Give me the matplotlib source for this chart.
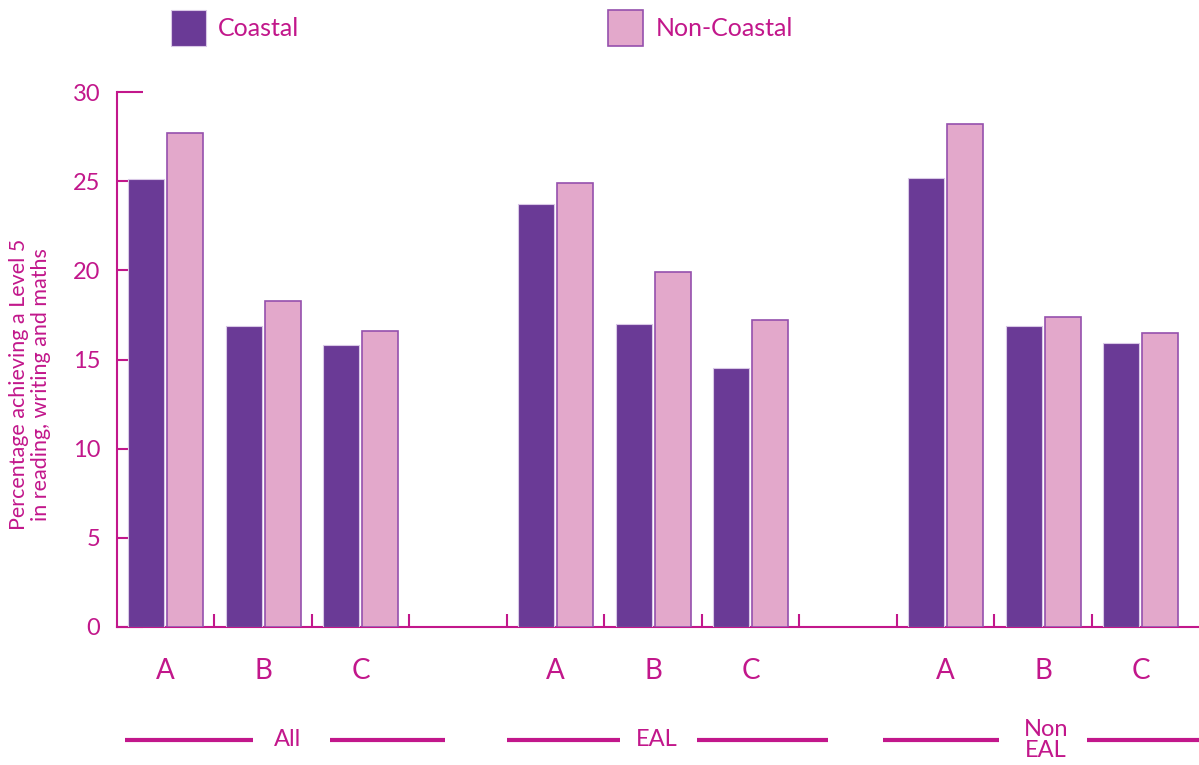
import matplotlib
matplotlib.use("Agg")
import matplotlib.pyplot as plt
import numpy as np

plt.rcParams['font.family'] = ['Lato', 'DejaVu Sans']

# data
groups = ['All', 'EAL', 'Non\nEAL']
schools = ['A', 'B', 'C']
coastal = [25.1, 16.9, 15.8,
           23.7, 17.0, 14.5,
           25.2, 16.9, 15.9]
non_coastal = [27.7, 18.3, 16.6,
               24.9, 19.9, 17.2,
               28.2, 17.4, 16.5]

MAGENTA = '#C2178B'
PURPLE = '#6A3A96'
PINK = '#E3A8CB'
PINK_EDGE = '#9550AD'

fig = plt.figure(figsize=(11.99, 7.65), dpi=100)
ax = fig.add_axes([0.0976, 0.1804, 0.9024, 0.6993])

# one empty slot between groups
pos = []
for g in range(len(groups)):
    for s in range(len(schools)):
        pos.append(g * (len(schools) + 1) + s)
pos = np.array(pos, dtype=float)

w = 0.37
ax.bar(pos - w / 2 - 0.015, coastal, w, color=PURPLE, edgecolor='#D9C8E6',
       linewidth=0.8, zorder=3, label='Coastal')
ax.bar(pos + w / 2 + 0.015, non_coastal, w, color=PINK, edgecolor=PINK_EDGE,
       linewidth=1.2, zorder=3, label='Non-Coastal')

ax.set_xlim(-0.5, 10.6)
ax.set_ylim(0, 30)
ax.set_yticks([0, 5, 10, 15, 20, 25, 30])
ax.tick_params(axis='y', direction='in', length=19, width=1.5, color=MAGENTA,
               labelcolor=MAGENTA, labelsize=17, pad=12)

ax.set_xticks(pos)
ax.set_xticklabels(schools * len(groups))
ax.set_xticks(np.arange(0.5, 10.5, 1.0), minor=True)
ax.tick_params(axis='x', which='major', length=0, labelcolor=MAGENTA,
               labelsize=20, pad=22)
ax.tick_params(axis='x', which='minor', direction='in', length=9.5,
               width=1.5, color=MAGENTA)

for side in ['top', 'right']:
    ax.spines[side].set_visible(False)
for side in ['left', 'bottom']:
    ax.spines[side].set_color(MAGENTA)
    ax.spines[side].set_linewidth(1.5)

fig.text(0.025, 0.497, 'Percentage achieving a Level 5\nin reading, writing and maths',
         rotation=90, ha='center', va='center', color=MAGENTA, fontsize=15.5,
         linespacing=1.1)

# group labels with lines either side
trans = ax.get_xaxis_transform()
ly = -0.211
spans = [(-0.42, 0.89, 1.25, 1.68, 2.86),
         (3.50, 4.66, 5.04, 5.45, 6.79),
         (7.36, 8.55, 9.03, 9.45, 10.6)]
for name, (a, b, c, d, e) in zip(groups, spans):
    ax.plot([a, b], [ly, ly], transform=trans, color=MAGENTA, lw=3,
            clip_on=False, solid_capstyle='butt')
    ax.plot([d, e], [ly, ly], transform=trans, color=MAGENTA, lw=3,
            clip_on=False, solid_capstyle='butt')
    ax.text(c, ly, name, transform=trans, ha='center', va='center',
            color=MAGENTA, fontsize=17, linespacing=1.0)

fig.legend(loc='upper left', bbox_to_anchor=(0.132, 1.003), ncol=2, frameon=False,
           fontsize=18, labelcolor=MAGENTA, handlelength=1.4, handleheight=1.85,
           handletextpad=0.5, columnspacing=12.35, borderaxespad=0.1)

fig.savefig('out.png', dpi=100)
